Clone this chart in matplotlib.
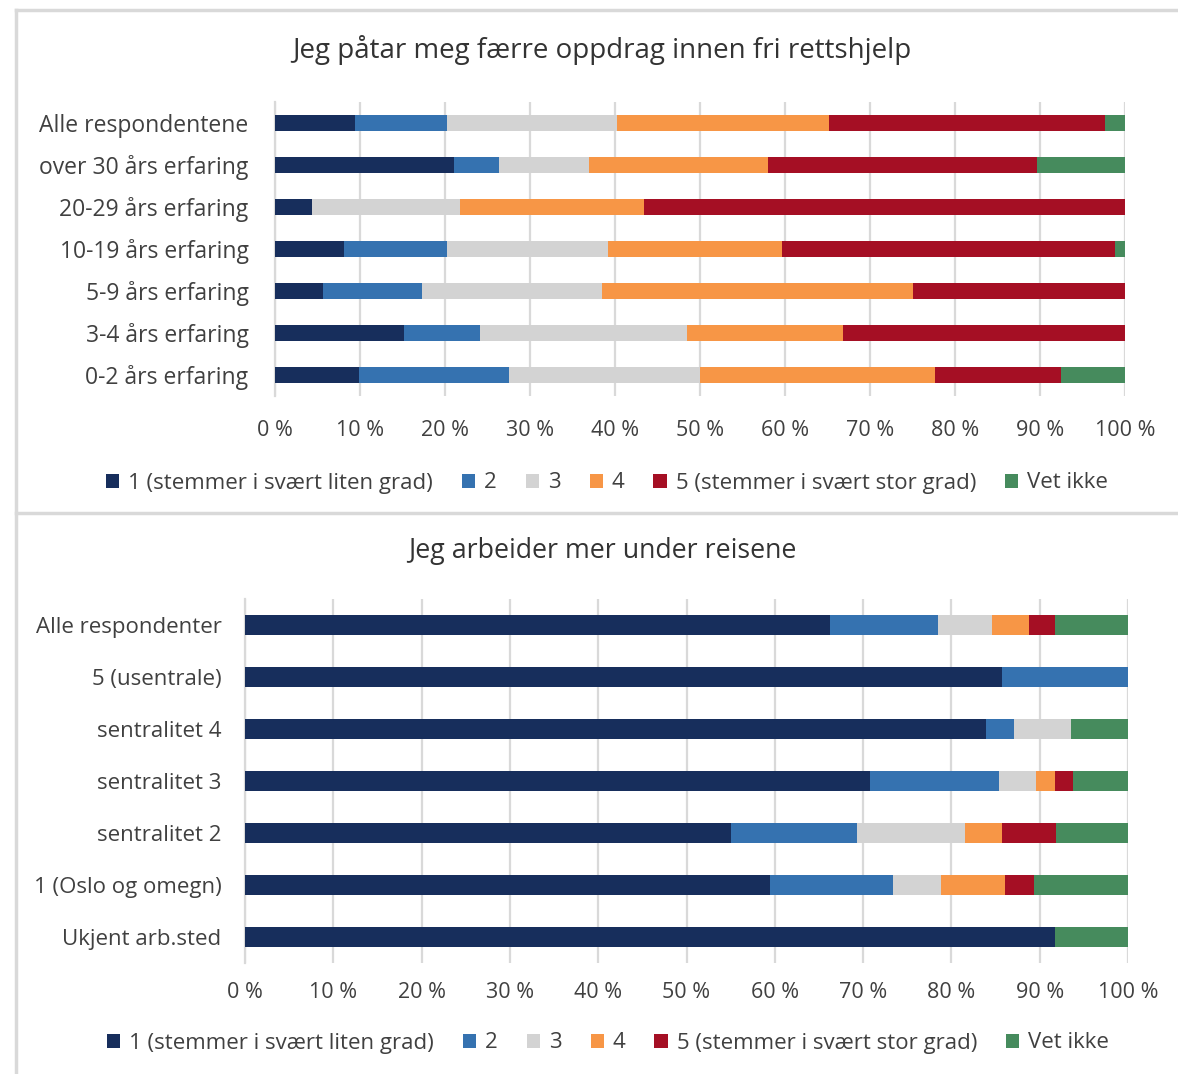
import numpy as np
import matplotlib.pyplot as plt
from matplotlib.lines import Line2D

plt.rcParams['font.family'] = ['Open Sans', 'DejaVu Sans']

series = ["1 (stemmer i svært liten grad)", "2", "3", "4",
          "5 (stemmer i svært stor grad)", "Vet ikke"]
colors = ["#172E5C", "#3572B0", "#D3D3D3", "#F79646", "#A50F24", "#468B5D"]

# top chart: experience groups
top_title = "Jeg påtar meg færre oppdrag innen fri rettshjelp"
top_cats = ["Alle respondentene", "over 30 års erfaring", "20-29 års erfaring",
            "10-19 års erfaring", "5-9 års erfaring", "3-4 års erfaring",
            "0-2 års erfaring"]
top_s1 = [9.4, 21.1, 4.4, 8.1, 5.7, 15.2, 9.9]
top_s2 = [10.8, 5.3, 0.0, 12.1, 11.6, 8.9, 17.6]
top_s3 = [20.0, 10.5, 17.4, 19.0, 21.2, 24.4, 22.5]
top_s4 = [25.0, 21.1, 21.6, 20.4, 36.6, 18.3, 27.6]
top_s5 = [32.4, 31.7, 56.6, 39.2, 24.9, 33.2, 14.9]
top_vi = [2.4, 10.3, 0.0, 1.2, 0.0, 0.0, 7.5]

# bottom chart: centrality
bot_title = "Jeg arbeider mer under reisene"
bot_cats = ["Alle respondenter", "5 (usentrale)", "sentralitet 4",
            "sentralitet 3", "sentralitet 2", "1 (Oslo og omegn)",
            "Ukjent arb.sted"]
bot_s1 = [66.3, 85.7, 83.9, 70.8, 55.0, 59.5, 91.7]
bot_s2 = [12.2, 14.3, 3.2, 14.6, 14.3, 13.9, 0.0]
bot_s3 = [6.1, 0.0, 6.5, 4.2, 12.2, 5.4, 0.0]
bot_s4 = [4.2, 0.0, 0.0, 2.1, 4.2, 7.3, 0.0]
bot_s5 = [2.9, 0.0, 0.0, 2.1, 6.1, 3.3, 0.0]
bot_vi = [8.3, 0.0, 6.4, 6.2, 8.2, 10.6, 8.3]

xticks = np.arange(0, 101, 10)
xlabels = [f"{t} %" for t in xticks]

W, H = 1178, 1074
fig = plt.figure(figsize=(W / 100, H / 100), dpi=100)

txt = "#404040"
grid = "#D9D9D9"


def draw(rect, cats, data, title, title_y, title_fs, lab_fs, bar_h, xpad, ypad,
         legend_y, legend_x):
    l, t, r, b = rect
    ax = fig.add_axes([l / W, 1 - b / H, (r - l) / W, (b - t) / H])
    y = np.arange(len(cats))
    left = np.zeros(len(cats))
    for vals, name, c in zip(data, series, colors):
        vals = np.array(vals)
        ax.barh(y, vals, left=left, height=bar_h, color=c, label=name, zorder=3)
        left += vals
    ax.set_xlim(0, 100)
    ax.set_ylim(len(cats) - 0.5, -0.5)
    ax.set_yticks(y)
    ax.set_yticklabels(cats, fontsize=lab_fs, color=txt)
    ax.set_xticks(xticks)
    ax.set_xticklabels(xlabels, fontsize=15.5, color=txt)
    ax.tick_params(axis='both', length=0)
    ax.tick_params(axis='x', pad=xpad)
    ax.tick_params(axis='y', pad=ypad)
    ax.grid(axis='x', color=grid, lw=1.6, zorder=0)
    for s in ['top', 'right', 'bottom']:
        ax.spines[s].set_visible(False)
    ax.spines['left'].set_color(grid)
    ax.spines['left'].set_linewidth(1.6)
    fig.text(0.511, 1 - title_y / H, title, ha='center', va='center',
             fontsize=title_fs, color="#333333")
    fig.legend(*ax.get_legend_handles_labels(), loc='center',
               bbox_to_anchor=(legend_x / W, 1 - legend_y / H), ncol=6,
               frameon=False, fontsize=16, handlelength=0.6, handleheight=0.6,
               handletextpad=0.4, columnspacing=1.3, labelcolor=txt)
    return ax


draw((275, 102, 1125, 396), top_cats,
     [top_s1, top_s2, top_s3, top_s4, top_s5, top_vi],
     top_title, 50, 20, 16.5, 0.4, 17, 19, 483, 607)
draw((245, 599, 1128, 963), bot_cats,
     [bot_s1, bot_s2, bot_s3, bot_s4, bot_s5, bot_vi],
     bot_title, 551, 19.3, 16, 0.38, 14, 17, 1043, 608)

# panel frame lines
fx = 16 / W
fig.add_artist(Line2D([fx, fx], [0, 1 - 10 / H], color=grid, lw=2.5))
fig.add_artist(Line2D([fx, 1], [1 - 10 / H, 1 - 10 / H], color=grid, lw=2.5))
fig.add_artist(Line2D([fx, 1], [1 - 513 / H, 1 - 513 / H], color=grid, lw=2.5))

fig.savefig("out.png", dpi=100)
